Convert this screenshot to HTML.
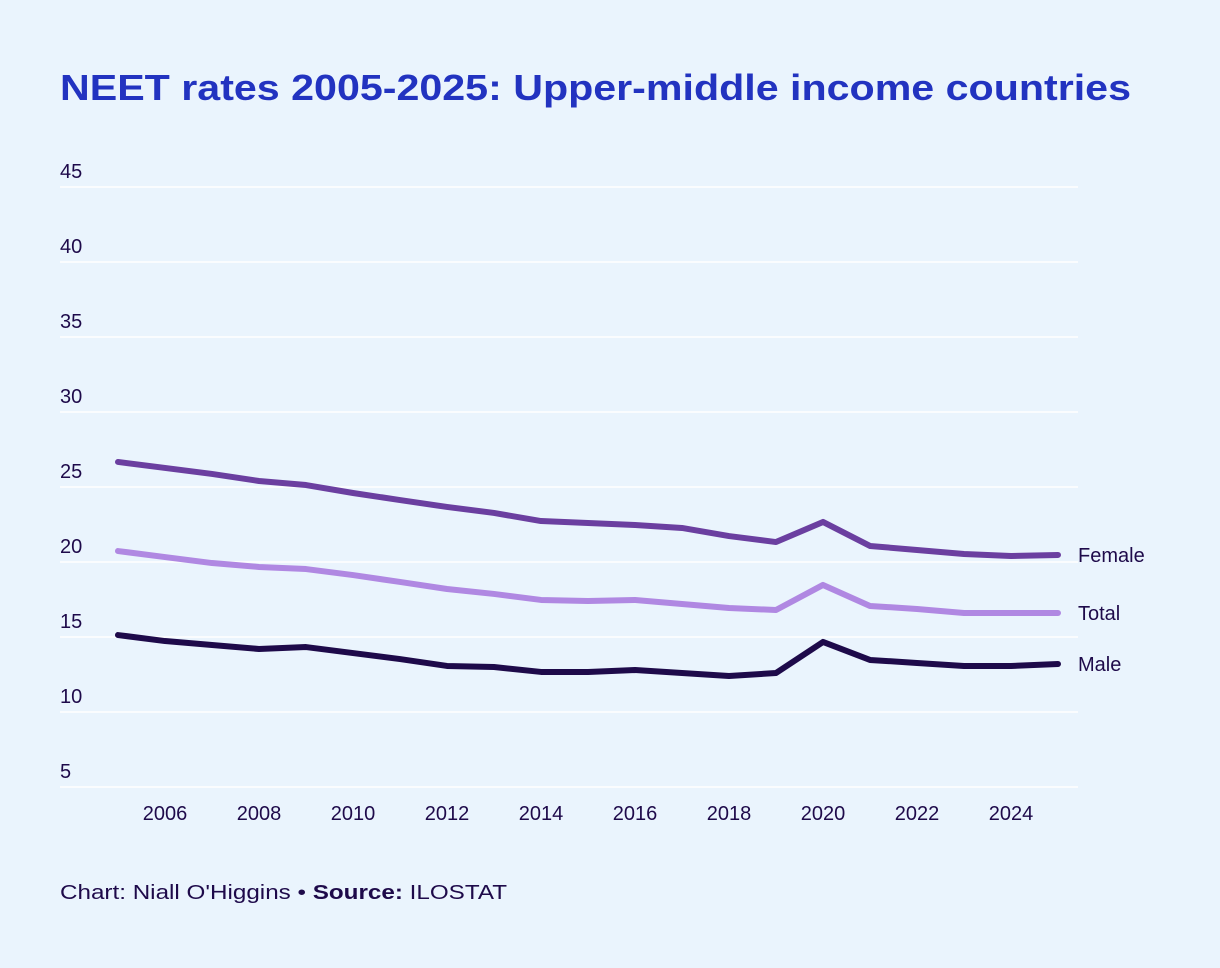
<!DOCTYPE html>
<html><head><meta charset="utf-8"><style>
body{margin:0;background:#eaf4fd;font-family:"Liberation Sans",sans-serif;}
svg{display:block}
</style></head><body>
<svg width="1220" height="968">
<rect width="1220" height="968" fill="#eaf4fd"/>
<text x="60" y="100" font-size="36" font-weight="bold" fill="#2233c0" textLength="1071" lengthAdjust="spacingAndGlyphs">NEET rates 2005-2025: Upper-middle income countries</text>
<g id="grid"></g>
<g id="xt"></g>
<g id="lines"></g>
<text x="60" y="899" font-size="20" fill="#1e0a4a" textLength="447" lengthAdjust="spacingAndGlyphs">Chart: Niall O'Higgins • <tspan font-weight="bold">Source:</tspan> ILOSTAT</text>
</svg>
<script>
const years=[2005,2006,2007,2008,2009,2010,2011,2012,2013,2014,2015,2016,2017,2018,2019,2020,2021,2022,2023,2024,2025];
const female=[26.67,26.27,25.87,25.4,25.13,24.6,24.13,23.67,23.27,22.73,22.6,22.47,22.27,21.73,21.33,22.67,21.07,20.8,20.53,20.4,20.47];
const total=[20.73,20.33,19.93,19.67,19.53,19.13,18.67,18.2,17.87,17.47,17.4,17.47,17.2,16.93,16.8,18.47,17.07,16.87,16.6,16.6,16.6];
const male=[15.13,14.73,14.47,14.2,14.33,13.93,13.53,13.07,13,12.67,12.67,12.8,12.6,12.4,12.6,14.67,13.47,13.27,13.07,13.07,13.2];
const yTicks=[5,10,15,20,25,30,35,40,45];
const xTicks=[2006,2008,2010,2012,2014,2016,2018,2020,2022,2024];
const NS="http://www.w3.org/2000/svg";
const y=v=>787-(v-5)*15;
const x=yr=>118+(yr-2005)*47;
function mk(t,a,p){const e=document.createElementNS(NS,t);for(const k in a)e.setAttribute(k,a[k]);p.appendChild(e);return e;}
const grid=document.getElementById('grid');
yTicks.forEach(v=>{
 const l=mk('line',{x1:60,x2:1078,y1:y(v),y2:y(v),stroke:'#ffffff','stroke-width':1.5},grid);
 
 
 const t=mk('text',{x:60,y:y(v)-9,'font-size':20,fill:'#1e0a4a'},grid);t.textContent=v;
 
 
});
const xt=document.getElementById('xt');
xTicks.forEach(v=>{
 const t=mk('text',{x:x(v),y:820,'font-size':20,fill:'#1e0a4a','text-anchor':'middle'},xt);t.textContent=v;
 
 
});
const lines=document.getElementById('lines');
[[female,'#6b3fa0','Female'],[total,'#b088e2','Total'],[male,'#1e0a4a','Male']].forEach(([d,c,n])=>{
 const p=mk('polyline',{points:d.map((v,i)=>x(years[i])+','+y(v)).join(' '),fill:'none',stroke:c,'stroke-width':6,'stroke-linejoin':'round','stroke-linecap':'round'},lines);
 
 
 const t=mk('text',{x:1078,y:y(d[d.length-1])+7,'font-size':20,fill:'#1e0a4a'},lines);t.textContent=n;
 
 
});
</script>
</body></html>
